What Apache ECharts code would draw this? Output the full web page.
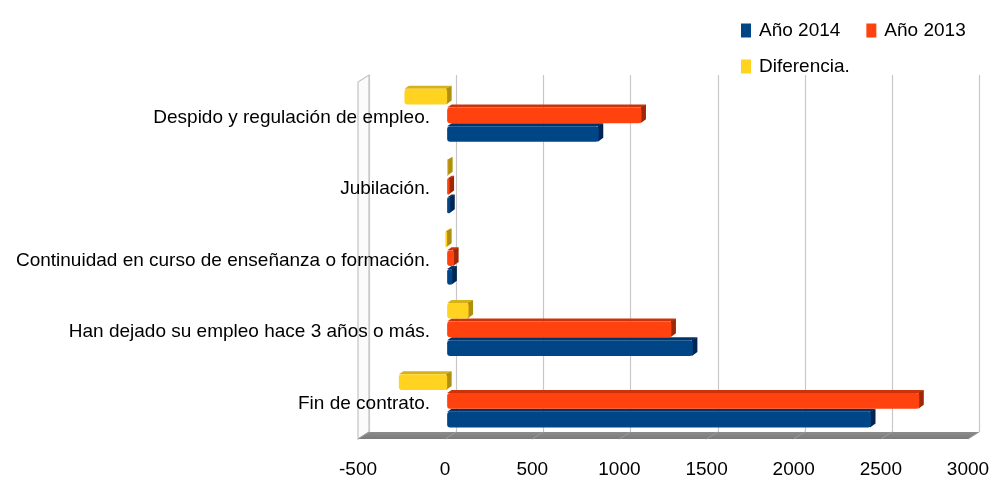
<!DOCTYPE html>
<html>
<head>
<meta charset="utf-8">
<script src="https://cdn.jsdelivr.net/npm/echarts@6/dist/echarts.min.js"></script>
<style>
  html, body { margin: 0; padding: 0; background: #ffffff; }
  #chart { width: 992px; height: 485px; }
</style>
</head>
<body>
<div id="chart"></div>
<script>
// Categories, top to bottom
const categories = [
  'Despido y regulación de empleo.',
  'Jubilación.',
  'Continuidad en curso de enseñanza o formación.',
  'Han dejado su empleo hace 3 años o más.',
  'Fin de contrato.'
];
const anio2014 = [870, 18, 30, 1410, 2432];
const anio2013 = [1115, 14, 40, 1287, 2709];
const diferencia = [-245, 4, -10, 123, -277];
const xTicks = [-500, 0, 500, 1000, 1500, 2000, 2500, 3000];

const FONT = "'Liberation Sans Narrow', 'Liberation Sans', Arial, sans-serif";

// depth offsets of the pseudo-3D box (back wall vs. front plane)
const WALL_DX = 11, WALL_DY = -7;
// depth of each bar block
const BAR_DX = 4.5, BAR_DY = 3;

const palette = {
  blue:   { front: '#004586', top: '#00346a', side: '#002550' },
  orange: { front: '#ff420e', top: '#cc330a', side: '#9e2706' },
  yellow: { front: '#ffd320', top: '#d6b21a', side: '#b08f0e' }
};

// slotFromTop: 0 = highest bar in the group
function barRenderer(slotFromTop, shades) {
  return function (params, api) {
    const v = api.value(0);
    const cat = api.value(1);
    const p0 = api.coord([0, cat]);
    const p1 = api.coord([v, cat]);
    const band = api.size([0, 1])[1];
    const slotH = band * 0.262;
    const cy = p0[1] - band * 0.055;
    const top = cy - 1.5 * slotH + slotFromTop * slotH;
    const faceTop = top + BAR_DY;
    const faceH = slotH - BAR_DY;
    const shift = 2;
    let xa = Math.min(p0[0], p1[0]) + shift;
    let xb = Math.max(p0[0], p1[0]) + shift;
    if (xb - xa < 1) xb = xa + 1;
    const children = [
      {
        type: 'polygon',
        shape: { points: [[xa, faceTop], [xa + BAR_DX, faceTop - BAR_DY], [xb + BAR_DX, faceTop - BAR_DY], [xb, faceTop]] },
        style: { fill: shades.top }
      },
      {
        type: 'polygon',
        shape: { points: [[xb - 1, faceTop], [xb + BAR_DX, faceTop - BAR_DY], [xb + BAR_DX, faceTop + faceH - BAR_DY - 1], [xb - 1, faceTop + faceH]] },
        style: { fill: shades.side }
      },
      {
        type: 'rect',
        shape: { x: xa, y: faceTop, width: xb - xa, height: faceH, r: Math.min(3, (xb - xa) / 2) },
        style: { fill: shades.front }
      }
    ];
    return { type: 'group', children: children };
  };
}

// back wall grid, left wall and floor of the box
function wallRenderer(params, api) {
  const cs = params.coordSys;
  const x0 = cs.x, y0 = cs.y, x1 = cs.x + cs.width, y1 = cs.y + cs.height;
  const children = [];
  // left wall
  children.push({
    type: 'polygon',
    shape: { points: [[x0, y0], [x0 + WALL_DX, y0 + WALL_DY], [x0 + WALL_DX, y1 + WALL_DY], [x0, y1]] },
    style: { fill: '#fbfbfb', stroke: '#c4c4c4', lineWidth: 1.2 }
  });
  // back wall grid lines
  xTicks.forEach(function (t) {
    const x = Math.round(api.coord([t, 0])[0] + WALL_DX) + 0.5;
    children.push({
      type: 'line',
      shape: { x1: x, y1: y0 + WALL_DY, x2: x, y2: y1 + WALL_DY },
      style: { stroke: '#c8c8c8', lineWidth: 1.2 }
    });
  });
  // floor
  children.push({
    type: 'polygon',
    shape: { points: [[x0, y1], [x0 + WALL_DX, y1 + WALL_DY], [x1 + WALL_DX, y1 + WALL_DY], [x1, y1]] },
    style: {
      fill: {
        type: 'linear', x: 0, y: 0, x2: 0, y2: 1,
        colorStops: [{ offset: 0, color: '#8c8c8c' }, { offset: 1, color: '#7a7a7a' }]
      }
    }
  });
  xTicks.forEach(function (t) {
    const x = api.coord([t, 0])[0];
    children.push({
      type: 'line',
      shape: { x1: x + WALL_DX, y1: y1 + WALL_DY, x2: x, y2: y1 },
      style: { stroke: '#9a9a9a', lineWidth: 1 }
    });
  });
  return { type: 'group', children: children };
}

function toData(values) {
  return values.map(function (v, i) { return [v, i]; });
}

const chart = echarts.init(document.getElementById('chart'), null, { renderer: 'canvas' });

const legendText = { fontFamily: FONT, fontSize: 19, color: '#000000', padding: [0, 0, 0, 3] };

chart.setOption({
  animation: false,
  backgroundColor: '#ffffff',
  textStyle: { fontFamily: FONT },
  legend: [
    {
      data: ['Año 2014', 'Año 2013'],
      left: 736, top: 16,
      icon: 'rect', itemWidth: 10, itemHeight: 14, itemGap: 26,
      textStyle: legendText
    },
    {
      data: ['Diferencia.'],
      left: 736, top: 52,
      icon: 'rect', itemWidth: 10, itemHeight: 14,
      textStyle: legendText
    }
  ],
  grid: { left: 358, right: 24, top: 82, bottom: 46, containLabel: false, outerBoundsMode: 'none' },
  xAxis: {
    type: 'value',
    min: -500, max: 3000, interval: 500,
    axisLine: { show: false },
    axisTick: { show: false },
    splitLine: { show: false },
    axisLabel: {
      margin: 21, fontSize: 19, color: '#000000', fontFamily: FONT,
      formatter: function (v) { return String(v); }
    }
  },
  yAxis: {
    type: 'category',
    inverse: true,
    data: categories,
    z: 10,
    axisLine: { show: false },
    axisTick: { show: false },
    axisLabel: { margin: -72, fontSize: 19, color: '#000000', fontFamily: FONT }
  },
  series: [
    {
      name: 'walls', type: 'custom', renderItem: wallRenderer,
      data: [[0, 0]], encode: { x: 0, y: 1 }, clip: false, z: 1, silent: true
    },
    {
      name: 'Año 2014', type: 'custom', renderItem: barRenderer(2, palette.blue),
      data: toData(anio2014), encode: { x: 0, y: 1 }, itemStyle: { color: palette.blue.front }, z: 3
    },
    {
      name: 'Año 2013', type: 'custom', renderItem: barRenderer(1, palette.orange),
      data: toData(anio2013), encode: { x: 0, y: 1 }, itemStyle: { color: palette.orange.front }, z: 3
    },
    {
      name: 'Diferencia.', type: 'custom', renderItem: barRenderer(0, palette.yellow),
      data: toData(diferencia), encode: { x: 0, y: 1 }, itemStyle: { color: palette.yellow.front }, z: 3
    }
  ]
});
</script>
</body>
</html>
